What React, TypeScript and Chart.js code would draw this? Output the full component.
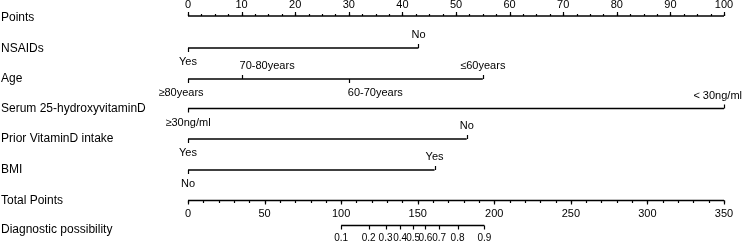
import React, { useEffect, useRef } from 'react';
import { Chart, registerables } from 'chart.js';

Chart.register(...registerables);

// ---- data ----
const rowNames = [
  'Points',
  'NSAIDs',
  'Age',
  'Serum 25-hydroxyvitaminD',
  'Prior VitaminD intake',
  'BMI',
  'Total Points',
  'Diagnostic possibility',
];

const pointsTickValues = [0, 10, 20, 30, 40, 50, 60, 70, 80, 90, 100];
const pointsMinorStep = 2.5;

const nsaidLabels = ['Yes', 'No'];
const nsaidPoints = [0, 43];

const ageLabels = ['≥80years', '70-80years', '60-70years', '≤60years'];
const agePoints = [0, 10, 30, 55];

const serumLabels = ['≥30ng/ml', '< 30ng/ml'];
const serumPoints = [0, 100];

const vitdLabels = ['Yes', 'No'];
const vitdPoints = [0, 52];

const bmiLabels = ['No', 'Yes'];
const bmiPoints = [0, 46];

const totalTickValues = [0, 50, 100, 150, 200, 250, 300, 350];
const totalMinorStep = 10;

const diagLabels = ['0.1', '0.2', '0.3', '0.4', '0.5', '0.6', '0.7', '0.8', '0.9'];
const diagTotals = [100, 118, 129, 138.5, 147, 155, 164, 176, 193.5];

// ---- layout (pixel rows) ----
const rowLineY = [16, 48, 79, 108.5, 139, 170, 200.5, 225.5];
const rowLabelY = [18, 49, 79, 109, 139, 170, 201, 230];

const FONT = '"Liberation Sans", Arial, Helvetica, sans-serif';
const INK = '#000';

type Factor = { labels: string[]; points: number[]; row: number };
const factors: Factor[] = [
  { labels: nsaidLabels, points: nsaidPoints, row: 1 },
  { labels: ageLabels, points: agePoints, row: 2 },
  { labels: serumLabels, points: serumPoints, row: 3 },
  { labels: vitdLabels, points: vitdPoints, row: 4 },
  { labels: bmiLabels, points: bmiPoints, row: 5 },
];

// per-label horizontal alignment tweaks (style)
const labelAlign: Record<string, { align: CanvasTextAlign; dx: number }> = {
  '≥80years': { align: 'center', dx: -7 },
  '70-80years': { align: 'left', dx: -2 },
  '60-70years': { align: 'left', dx: -1 },
  '< 30ng/ml': { align: 'right', dx: 18 },
};

const nomoPlugin = {
  id: 'nomo',
  afterDatasetsDraw(chart: any) {
    const ctx: CanvasRenderingContext2D = chart.ctx;
    const xs = chart.scales.x;
    const xt = chart.scales.x2;
    const ys = chart.scales.y;
    const crisp = (v: number) => Math.round(v) + 0.5;
    ctx.save();
    ctx.strokeStyle = INK;
    ctx.fillStyle = INK;
    ctx.lineWidth = 1.2;

    const tick = (px: number, py: number, len: number) => {
      ctx.beginPath();
      ctx.moveTo(crisp(px), py);
      ctx.lineTo(crisp(px), py + len);
      ctx.stroke();
    };

    // row names
    ctx.font = `12px ${FONT}`;
    ctx.textAlign = 'left';
    ctx.textBaseline = 'middle';
    rowNames.forEach((n, i) => ctx.fillText(n, 1, ys.getPixelForValue(rowLabelY[i])));

    // points axis
    const py0 = ys.getPixelForValue(rowLineY[0]);
    const pMax = pointsTickValues[pointsTickValues.length - 1];
    for (let v = 0; v <= pMax + 1e-9; v += pointsMinorStep) {
      tick(xs.getPixelForValue(v), py0, -2);
    }
    ctx.font = `11px ${FONT}`;
    ctx.textAlign = 'center';
    pointsTickValues.forEach((v) => {
      const px = xs.getPixelForValue(v);
      tick(px, py0, -4);
      ctx.fillText(String(v), px, py0 - 11);
    });

    // factor rows
    factors.forEach((f) => {
      const py = ys.getPixelForValue(rowLineY[f.row]);
      f.points.forEach((p, i) => {
        const px = xs.getPixelForValue(p);
        const above = i % 2 === 1;
        tick(px, py, above ? -4 : 4);
        const a = labelAlign[f.labels[i]] || { align: 'center' as CanvasTextAlign, dx: 0 };
        ctx.textAlign = a.align;
        ctx.fillText(f.labels[i], px + a.dx, py + (above ? -13 : 14));
      });
    });

    // total points axis
    const pyT = ys.getPixelForValue(rowLineY[6]);
    const tMax = totalTickValues[totalTickValues.length - 1];
    for (let v = 0; v <= tMax + 1e-9; v += totalMinorStep) {
      tick(xt.getPixelForValue(v), pyT, 2.5);
    }
    ctx.textAlign = 'center';
    totalTickValues.forEach((v) => {
      const px = xt.getPixelForValue(v);
      tick(px, pyT, 4);
      ctx.fillText(String(v), px, pyT + 13);
    });

    // diagnostic possibility axis
    const pyD = ys.getPixelForValue(rowLineY[7]);
    ctx.font = `10px ${FONT}`;
    diagTotals.forEach((t, i) => {
      const px = xt.getPixelForValue(t);
      tick(px, pyD, 4);
      ctx.fillText(diagLabels[i], px, pyD + 13);
    });

    ctx.restore();
  },
};

function lineDs(minV: number, maxV: number, yv: number, axis = 'x') {
  return {
    data: [
      { x: minV, y: yv },
      { x: maxV, y: yv },
    ],
    xAxisID: axis,
    borderColor: INK,
    borderWidth: 1.3,
    pointRadius: 0,
    fill: false,
    clip: false as any,
  };
}

export default function App() {
  const ref = useRef<HTMLCanvasElement | null>(null);

  useEffect(() => {
    if (!ref.current) return;
    const datasets = [
      lineDs(0, pointsTickValues[pointsTickValues.length - 1], rowLineY[0]),
      ...factors.map((f) => lineDs(Math.min(...f.points), Math.max(...f.points), rowLineY[f.row])),
      lineDs(0, totalTickValues[totalTickValues.length - 1], rowLineY[6], 'x2'),
      lineDs(diagTotals[0], diagTotals[diagTotals.length - 1], rowLineY[7], 'x2'),
    ];
    const chart = new Chart(ref.current, {
      type: 'line',
      data: { datasets: datasets as any },
      options: {
        animation: false,
        responsive: false,
        maintainAspectRatio: false,
        layout: { padding: { left: 188, right: 20, top: 0, bottom: 0 } },
        plugins: { legend: { display: false }, tooltip: { enabled: false } },
        scales: {
          x: { type: 'linear', min: 0, max: 100, display: false },
          x2: { type: 'linear', min: 0, max: 350, display: false },
          y: { type: 'linear', min: 0, max: 248, reverse: true, display: false },
        },
      },
      plugins: [nomoPlugin],
    });
    return () => chart.destroy();
  }, []);

  return (
    <div style={{ position: 'fixed', left: 0, top: 0, width: 744, height: 248, background: '#fff' }}>
      <canvas ref={ref} width={744} height={248} style={{ display: 'block', width: 744, height: 248 }} />
    </div>
  );
}
